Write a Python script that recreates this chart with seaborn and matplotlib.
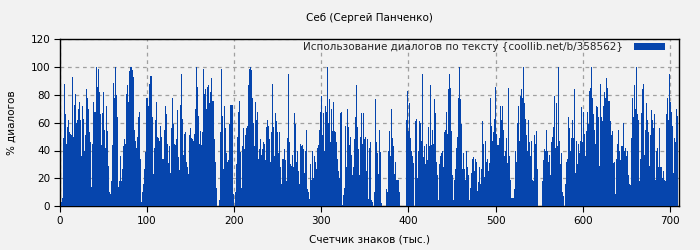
import numpy as np
import pandas as pd
import matplotlib
matplotlib.use("Agg")
import matplotlib.pyplot as plt
import seaborn as sns

# dialogue usage (%)
usage_a = [0, 3, 6, 49, 88, 66, 45, 57, 62, 53, 52, 51, 93, 50, 73, 81, 60, 62, 70, 75,
           62, 36, 72, 63, 40, 51, 84, 78, 70, 53, 46, 14, 45, 75, 68, 68, 100, 86, 99, 82,
           66, 44, 67, 82, 55, 42, 72, 54, 29, 10, 9, 18, 44, 89, 78, 100, 80, 64, 14, 18,
           36, 18, 27, 43, 48, 45, 81, 87, 75, 97, 100, 100, 98, 93, 55, 47, 42, 50, 64, 68,
           34, 3, 10, 16, 27, 39, 78, 78, 72, 88, 94, 94, 64, 23, 42, 62, 75, 50, 49, 47,
           58, 50, 34, 34]
usage_b = [55, 72, 66, 45, 31, 43, 24, 56, 78, 59, 45, 44, 48, 69, 35, 26, 73, 95, 63, 37,
           52, 53, 32, 28, 23, 51, 56, 49, 48, 47, 52, 70, 100, 86, 65, 45, 54, 44, 53, 99,
           81, 84, 70, 86, 87, 74, 82, 92, 76, 76, 48, 32, 13, 0, 0, 4, 53, 99, 65, 27,
           72, 56, 38, 32, 33, 59, 73, 73, 73, 9, 0, 10, 30, 50, 68, 76, 39, 13, 43, 56,
           41, 51, 56, 58, 87, 99, 100, 98, 78, 60, 43, 75, 62, 68, 34, 41, 48, 37, 41, 46,
           45, 33, 57, 62, 58]
usage_c = [48, 32, 53, 88, 57, 36, 67, 61, 53, 38, 53, 28, 16, 34, 34, 41, 33, 18, 49, 95,
           46, 30, 29, 37, 28, 67, 59, 32, 40, 25, 16, 45, 43, 44, 41, 24, 40, 55, 12, 10,
           5, 30, 19, 40, 20, 36, 32, 27, 42, 44, 55, 68, 79, 51, 67, 40, 72, 68, 100, 60,
           77, 46, 70, 54, 75, 54, 53, 46, 34, 25, 20, 67, 68, 1, 8, 13, 58, 28, 70, 57,
           44, 50, 37, 22, 28, 48, 64, 87, 57, 41, 22, 50, 67, 45, 67, 48, 50, 25, 48, 5,
           42, 46, 4, 3, 0]
usage_d = [10, 77, 46, 38, 23, 55, 39, 2, 0, 0, 0, 0, 12, 10, 40, 54, 36, 70, 49, 43,
           23, 32, 19, 19, 19, 10, 0, 0, 0, 0, 0, 0, 62, 83, 54, 74, 49, 40, 36, 31,
           0, 61, 63, 20, 40, 61, 60, 47, 95, 35, 43, 30, 45, 33, 57, 43, 87, 44, 55, 45,
           77, 67, 32, 22, 4, 30, 36, 38, 40, 28, 53, 55, 68, 52, 84, 95, 85, 54, 22, 4,
           19, 27, 42, 50, 78, 100, 77, 59, 27, 38, 27, 19, 40, 28, 22, 4, 13, 24, 34, 35,
           25, 34, 32, 11, 17]
usage_e = [28, 16, 27, 61, 45, 21, 47, 32, 34, 25, 31, 78, 58, 47, 53, 63, 86, 52, 44, 49,
           72, 62, 72, 55, 36, 40, 49, 31, 85, 36, 19, 6, 6, 6, 12, 40, 32, 60, 72, 47,
           79, 84, 78, 100, 74, 63, 51, 40, 62, 46, 36, 47, 19, 18, 51, 45, 54, 27, 0, 0,
           0, 0, 18, 33, 41, 40, 55, 40, 32, 37, 22, 46, 50, 57, 79, 42, 74, 43, 100, 47,
           30, 38, 10, 7, 0, 16, 32, 34, 64, 56, 40, 49, 62, 49, 84, 24, 47, 30, 45, 38,
           47, 71, 46, 68, 52]
usage_f = [36, 54, 68, 59, 83, 85, 100, 78, 66, 55, 45, 72, 71, 64, 29, 88, 64, 61, 72, 82,
           78, 92, 85, 76, 76, 61, 51, 54, 31, 32, 9, 34, 45, 55, 40, 33, 43, 43, 60, 40,
           42, 36, 40, 22, 16, 15, 49, 78, 64, 87, 70, 100, 66, 62, 18, 34, 67, 84, 88, 37,
           55, 74, 62, 53, 29, 51, 69, 62, 56, 66, 19, 40, 42, 28, 56, 28, 28, 20, 25, 19,
           18, 66, 78, 62, 95, 75, 68, 58, 24, 49, 46, 70, 65]

usage = usage_a + usage_b + usage_c + usage_d + usage_e + usage_f
counter_max = 709          # thousand characters covered by the bars
x_ticks = [0, 100, 200, 300, 400, 500, 600, 700]
y_ticks = [0, 20, 40, 60, 80, 100, 120]

title = "Себ (Сергей Панченко)"
legend_label = "Использование диалогов по тексту {coollib.net/b/358562}"
x_label = "Счетчик знаков (тыс.)"
y_label = "% диалогов"

n = len(usage)
step = counter_max / n
df = pd.DataFrame({"counter": (np.arange(n) + 0.5) * step, "usage": usage})

bg = "#f2f2f2"
blue = "#0645ad"

sns.set_theme(style="ticks")
plt.rcParams["font.family"] = ["DejaVu Sans"]

fig = plt.figure(figsize=(7, 2.5), dpi=100, facecolor=bg)
ax = fig.add_axes([0.0857, 0.176, 0.8837, 0.666])
ax.set_facecolor(bg)

sns.histplot(data=df, x="counter", weights="usage", bins=n, binrange=(0, counter_max),
             ax=ax, color=blue, alpha=1, linewidth=0, element="bars", fill=True,
             label=legend_label, zorder=3)
for p in ax.patches:
    p.set_antialiased(False)

ax.set_xlim(0, 710)
ax.set_ylim(0, 120)
ax.set_xticks(x_ticks)
ax.set_yticks(y_ticks)
ax.grid(True, linestyle=(0, (3, 3)), color="#a0a0a0", linewidth=0.9, zorder=0)
ax.set_axisbelow(True)
for s in ax.spines.values():
    s.set_visible(True)
    s.set_color("black")
    s.set_linewidth(1.0)
ax.tick_params(direction="out", length=4, width=0.8, labelsize=7.5, colors="black", pad=3)

ax.set_title(title, fontsize=7.5, pad=13, color="black")
ax.set_xlabel(x_label, fontsize=7.5, labelpad=6, color="black")
ax.set_ylabel(y_label, fontsize=7.5, labelpad=10, color="black")

leg = ax.legend(loc="upper right", bbox_to_anchor=(0.98, 0.99), frameon=False,
                fontsize=7.5, markerfirst=False, handlelength=3.0, handleheight=0.6,
                borderaxespad=0, borderpad=0.1, handletextpad=1.0)

fig.savefig("out.png", dpi=100, facecolor=bg)
